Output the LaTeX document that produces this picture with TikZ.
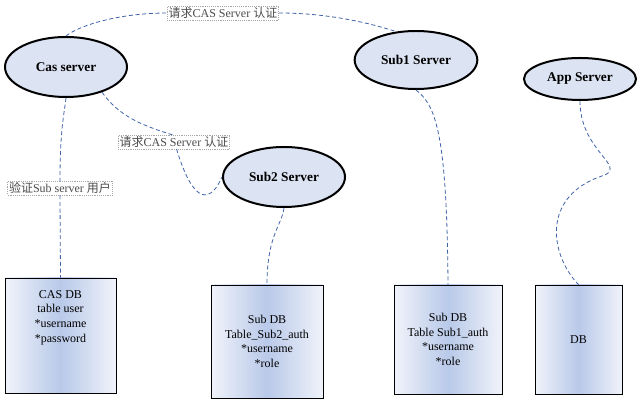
\documentclass[tikz,border=0pt]{standalone}
\usepackage{fontspec}
\setmainfont{Liberation Serif}
\newfontfamily\cjk{Noto Sans CJK SC}
\usetikzlibrary{shapes.geometric,positioning}
\definecolor{linkblue}{HTML}{3F62A8}
\definecolor{ellfill}{HTML}{DCE3F2}
\definecolor{dbmid}{HTML}{B9C9E9}
\definecolor{dbside}{HTML}{F0F3FA}

\begin{document}
\begin{tikzpicture}[x=.75pt,y=-.75pt,font=\fontsize{9}{11}\selectfont,
  server/.style={ellipse,draw,line width=1.5pt,fill=ellfill,inner sep=0pt,font=\fontsize{10}{12}\selectfont\bfseries},
  dbbox/.style={draw,line width=.6pt,left color=dbside,right color=dbside,middle color=dbmid,align=center,inner sep=0pt},
  note/.style={draw=gray!70,densely dotted,text=black!70,fill=white,inner sep=1pt},
  link/.style={draw=linkblue,line width=.6pt,densely dashed}]
\useasboundingbox (0,0) rectangle (640,402);
\node[server,minimum width=91.5pt,minimum height=45pt] (cas) at (66,67) {Cas server};
\node[server,minimum width=92pt,minimum height=43.5pt] (subone) at (416,60) {Sub1 Server};
\node[server,minimum width=91.5pt,minimum height=45pt] (subtwo) at (284,177) {Sub2 Server};
\node[server,minimum width=84pt,minimum height=31.5pt] (app) at (580,79) {App Server};
\node[dbbox,minimum width=83.25pt,minimum height=86.25pt] (casdb) at (60.5,335.5) {CAS DB\\table user\\*username\\*password\\[2em]};
\node[dbbox,minimum width=84pt,minimum height=84.75pt] (subtwodb) at (267,341.5) {Sub DB\\Table\_Sub2\_auth\\*username\\*role};
\node[dbbox,minimum width=81pt,minimum height=81.75pt] (subonedb) at (448,339.5) {Sub DB\\Table Sub1\_auth\\*username\\*role};
\node[dbbox,minimum width=65.25pt,minimum height=81.75pt] (appdb) at (578.5,339.5) {DB};
\node[note] (reqone) at (223,13) {{\cjk 请求}CAS Server {\cjk 认证}};
\node[note] (reqtwo) at (174,142) {{\cjk 请求}CAS Server {\cjk 认证}};
\node[note] (verify) at (60,188) {{\cjk 验证}Sub server {\cjk 用户}};
\draw[link] (cas.north) .. controls (80,25) and (120,13) .. (reqone.west);
\draw[link] (reqone.east) .. controls (320,13) and (360,20) .. (subone.125);
\draw[link] (cas.-35) .. controls (118,115) and (140,125) .. (reqtwo.100);
\draw[link] (reqtwo.-70) .. controls (195,210) and (212,200) .. (subtwo.west);
\draw[link] (cas.south) .. controls (64,115) and (60,130) .. (verify.north);
\draw[link] (verify.south) -- (casdb.north);
\draw[link] (subtwo.south) .. controls (282,225) and (267,235) .. (subtwodb.north);
\draw[link] (subone.south) .. controls (435,105) and (447,130) .. (subonedb.north);
\draw[link] (app.south) .. controls (580,150) and (625,165) .. (605,175) .. controls (540,195) and (550,255) .. (appdb.north);
\end{tikzpicture}
\end{document}
